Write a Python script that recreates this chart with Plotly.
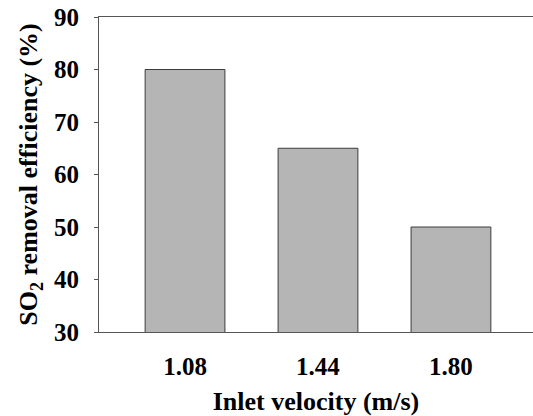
import plotly.graph_objects as go

categories = ["1.08", "1.44", "1.80"]
efficiency = [80, 65, 50]
y_ticks = [30, 40, 50, 60, 70, 80, 90]

font_family = "Liberation Serif"

fig = go.Figure(
    go.Bar(
        x=categories,
        y=efficiency,
        width=0.6,
        marker=dict(color="#B5B5B5", line=dict(color="#3C3C3C", width=1)),
    )
)

fig.update_layout(
    width=533,
    height=416,
    margin=dict(l=99, r=0, t=17, b=84),
    paper_bgcolor="white",
    plot_bgcolor="white",
    showlegend=False,
    font=dict(family=font_family, size=25, color="black"),
)

fig.update_xaxes(
    type="category",
    range=[-0.647, 2.617],
    showline=True,
    linecolor="#555555",
    linewidth=1,
    mirror=True,
    ticks="",
    showgrid=False,
    tickfont=dict(family=font_family, size=25, color="black", weight="bold"),
    ticklabelstandoff=12,
    title=dict(
        text="<b>Inlet velocity (m/s)</b>",
        font=dict(family=font_family, size=26, color="black"),
        standoff=12,
    ),
)

fig.update_yaxes(
    range=[30, 90],
    tickvals=y_ticks,
    showline=True,
    linecolor="#555555",
    linewidth=1,
    ticks="outside",
    ticklen=4,
    tickcolor="#555555",
    showgrid=False,
    zeroline=False,
    tickfont=dict(family=font_family, size=25, color="black", weight="bold"),
    ticklabelstandoff=10,
    title=dict(
        text="<b>SO<sub>2</sub> removal efficiency (%)</b>",
        font=dict(family=font_family, size=26, color="black"),
        standoff=8,
    ),
)

fig.write_html("out.html")
